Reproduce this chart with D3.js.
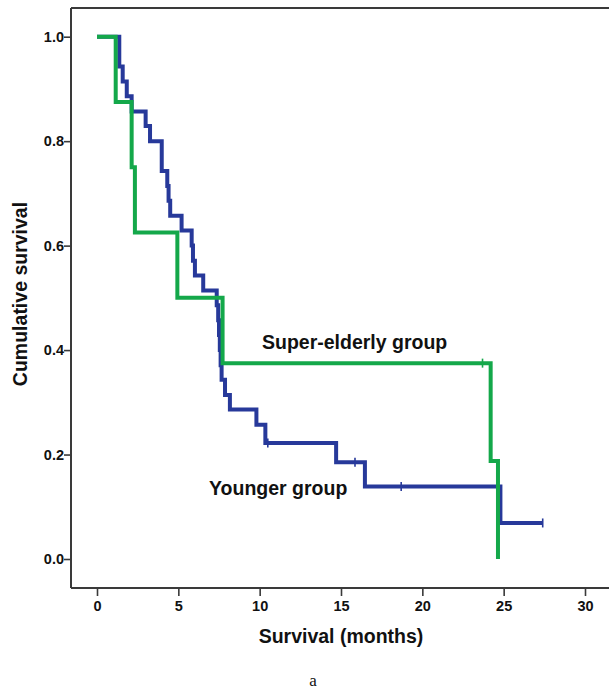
<!DOCTYPE html>
<html>
<head>
<meta charset="utf-8">
<script src="https://cdn.jsdelivr.net/npm/d3@7"></script>
<style>
  html, body { margin: 0; padding: 0; background: #fff; }
  svg { display: block; }
</style>
</head>
<body>
<svg id="chart" width="609" height="692"></svg>
<script>
// ---- data ----
const xTicks = [0, 5, 10, 15, 20, 25, 30];
const yTicks = [0.0, 0.2, 0.4, 0.6, 0.8, 1.0];

const superTimes = [0, 1.15, 2.13, 2.33, 4.94, 7.72, 24.2, 24.65];
const superSurv  = [1.0, 0.875, 0.75, 0.625, 0.5, 0.375, 0.1875, 0.0];
const superCensorTimes = [23.7];
const superCensorSurv  = [0.375];

const youngTimes = [0, 1.37, 1.58, 1.83, 2.13, 2.99, 3.26, 3.98, 4.32, 4.40, 4.50, 5.20, 5.82, 5.90, 6.02, 6.53, 7.36, 7.45, 7.50, 7.55, 7.60, 7.66, 7.87, 8.17, 9.80, 10.35, 14.7, 16.47, 24.8, 27.4];
const youngSurv  = [1.0, 0.943, 0.914, 0.886, 0.857, 0.829, 0.800, 0.743, 0.714, 0.686, 0.657, 0.629, 0.600, 0.571, 0.543, 0.514, 0.486, 0.457, 0.429, 0.400, 0.371, 0.343, 0.314, 0.286, 0.257, 0.222, 0.185, 0.139, 0.069, 0.069];
const youngCensorTimes = [10.5, 15.86, 18.7, 27.4];
const youngCensorSurv  = [0.222, 0.185, 0.139, 0.069];

const labels = { superGroup: "Super-elderly group", youngGroup: "Younger group" };

// ---- drawing ----
const svg = d3.select("#chart");
const frame = { left: 71, top: 8, bottom: 588, right: 609 };

const x = d3.scaleLinear().domain([0, 30]).range([97, 585]);
const y = d3.scaleLinear().domain([0, 1]).range([559, 36.7]);

const axisColor = "#3a3a3a";
const font = "'Liberation Sans', Arial, sans-serif";

// frame line (top)
svg.append("line").attr("x1", frame.left).attr("x2", frame.right).attr("y1", frame.top).attr("y2", frame.top)
  .attr("stroke", axisColor).attr("stroke-width", 2);

// y axis
const yAxis = d3.axisLeft(y).tickValues(yTicks).tickFormat(d3.format(".1f")).tickSize(7).tickSizeOuter(0);
const gy = svg.append("g").attr("transform", `translate(${frame.left},0)`).call(yAxis);
gy.select(".domain").remove();
gy.append("line").attr("x1", 0).attr("x2", 0).attr("y1", frame.top).attr("y2", frame.bottom)
  .attr("stroke", axisColor).attr("stroke-width", 2);
gy.selectAll(".tick line").attr("stroke", axisColor).attr("stroke-width", 1.6);
gy.selectAll(".tick text").attr("fill", "#111").attr("font-family", font).attr("font-weight", "bold")
  .attr("font-size", 14.5).attr("x", -7);

// x axis
const xAxis = d3.axisBottom(x).tickValues(xTicks).tickFormat(d3.format("d")).tickSize(8).tickSizeOuter(0);
const gx = svg.append("g").attr("transform", `translate(0,${frame.bottom})`).call(xAxis);
gx.select(".domain").remove();
gx.append("line").attr("x1", frame.left).attr("x2", frame.right).attr("y1", 0).attr("y2", 0)
  .attr("stroke", axisColor).attr("stroke-width", 2);
gx.selectAll(".tick line").attr("stroke", axisColor).attr("stroke-width", 1.6);
gx.selectAll(".tick text").attr("fill", "#111").attr("font-family", font).attr("font-weight", "bold")
  .attr("font-size", 14.5).attr("y", 13);

// axis titles
svg.append("text").attr("x", 341).attr("y", 643).attr("text-anchor", "middle")
  .attr("font-family", font).attr("font-weight", "bold").attr("font-size", 19.5).attr("fill", "#111")
  .text("Survival (months)");
svg.append("text").attr("transform", "translate(27,294) rotate(-90)").attr("text-anchor", "middle")
  .attr("font-family", font).attr("font-weight", "bold").attr("font-size", 19.5).attr("fill", "#111")
  .text("Cumulative survival");

// caption
svg.append("text").attr("x", 313).attr("y", 686).attr("text-anchor", "middle")
  .attr("font-family", "'Liberation Serif', 'Times New Roman', serif").attr("font-size", 17).attr("fill", "#111")
  .text("a");

// curves
const line = d3.line().x(d => x(d[0])).y(d => y(d[1])).curve(d3.curveStepAfter);
const blue = "#27399a", green = "#14a84a";

function drawCurve(times, surv, ct, cs, color) {
  const pts = times.map((t, i) => [t, surv[i]]);
  svg.append("path").datum(pts).attr("d", line).attr("fill", "none")
    .attr("stroke", color).attr("stroke-width", 4).attr("stroke-linejoin", "miter");
  const cens = ct.map((t, i) => [t, cs[i]]);
  svg.selectAll(null).data(cens).enter().append("line")
    .attr("x1", d => x(d[0])).attr("x2", d => x(d[0]))
    .attr("y1", d => y(d[1]) - 4.5).attr("y2", d => y(d[1]) + 4.5)
    .attr("stroke", color).attr("stroke-width", 1.6);
}
drawCurve(youngTimes, youngSurv, youngCensorTimes, youngCensorSurv, blue);
drawCurve(superTimes, superSurv, superCensorTimes, superCensorSurv, green);

// curve labels
svg.append("text").attr("x", 262).attr("y", 348.5)
  .attr("font-family", font).attr("font-weight", "bold").attr("font-size", 19.5).attr("fill", "#111")
  .text(labels.superGroup);
svg.append("text").attr("x", 209).attr("y", 495)
  .attr("font-family", font).attr("font-weight", "bold").attr("font-size", 19.5).attr("fill", "#111")
  .text(labels.youngGroup);
</script>
</body>
</html>
